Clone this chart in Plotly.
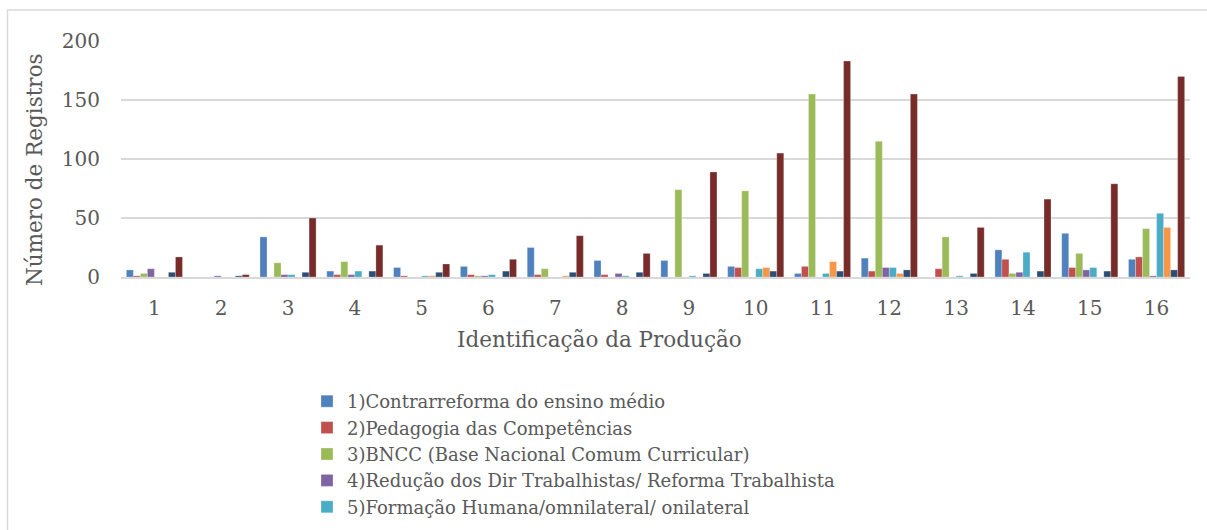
import plotly.graph_objects as go

categories = [str(i) for i in range(1, 17)]

s1_contrarreforma = [6, 0, 34, 5, 8, 9, 25, 14, 14, 9, 3, 16, 0, 23, 37, 15]
s2_pedagogia = [1, 0, 0, 2, 1, 2, 2, 2, 0, 8, 9, 5, 7, 15, 8, 17]
s3_bncc = [3, 0, 12, 13, 0, 1, 7, 0, 74, 73, 155, 115, 34, 3, 20, 41]
s4_reducao = [7, 1, 2, 2, 0, 1, 0, 3, 0, 0, 0, 8, 0, 4, 6, 1]
s5_formacao = [0, 0, 2, 5, 1, 2, 0, 1, 1, 7, 3, 8, 1, 21, 8, 54]
s6_orange = [0, 0, 0, 0, 1, 0, 1, 0, 0, 8, 13, 3, 0, 0, 0, 42]
s7_navy = [4, 1, 4, 5, 4, 5, 4, 4, 3, 5, 5, 6, 3, 5, 5, 6]
s8_darkred = [17, 2, 50, 27, 11, 15, 35, 20, 89, 105, 183, 155, 42, 66, 79, 170]

names = [
    "1)Contrarreforma do ensino médio",
    "2)Pedagogia das Competências",
    "3)BNCC (Base Nacional Comum Curricular)",
    "4)Redução dos Dir Trabalhistas/ Reforma Trabalhista",
    "5)Formação Humana/omnilateral/ onilateral",
    "6)",
    "7)",
    "8)",
]
series = [s1_contrarreforma, s2_pedagogia, s3_bncc, s4_reducao, s5_formacao,
          s6_orange, s7_navy, s8_darkred]
colors = ["#4F81BD", "#C0504D", "#9BBB59", "#8064A2", "#4BACC6",
          "#F79646", "#2C4D75", "#772C2A"]

x_title = "Identificação da Produção"
y_title = "Número de Registros"

FONT = "DejaVu Serif"
GRAY = "#595959"
L, T, W, H = 121, 41, 1069, 236

fig = go.Figure()
for i, (n, s, c) in enumerate(zip(names, series, colors)):
    fig.add_trace(go.Bar(
        x=categories, y=s, name=n,
        marker=dict(color=c, line=dict(color="rgba(255,255,255,0.45)", width=0.6)),
        showlegend=i < 5,
    ))

fig.update_layout(
    width=1207, height=530,
    margin=dict(l=L, r=1207 - L - W, t=T, b=530 - T - H, autoexpand=False),
    paper_bgcolor="white", plot_bgcolor="white",
    barmode="group", bargap=0.16, bargroupgap=0,
    font=dict(family=FONT, color=GRAY, size=20),
    xaxis=dict(
        tickfont=dict(size=20, color=GRAY),
        showline=True, linecolor="#D9D9D9", linewidth=1.5,
        ticks="", showgrid=False, ticklabelstandoff=12,
    ),
    yaxis=dict(
        tickfont=dict(size=20, color=GRAY),
        range=[0, 200], tickvals=[0, 50, 100, 150, 200],
        showgrid=True, gridcolor="#D9D9D9", gridwidth=1.5,
        zeroline=False, ticks="", showline=False, ticklabelstandoff=20,
    ),
    legend=dict(
        x=(307 - L) / W, y=-(383 - 277) / H, xanchor="left", yanchor="top",
        font=dict(size=18, color=GRAY), tracegroupgap=0,
        itemwidth=30, bgcolor="rgba(0,0,0,0)",
    ),
    annotations=[
        dict(text=x_title, xref="paper", yref="paper",
             x=(599 - L) / W, y=(T + H - 339) / H, xanchor="center", yanchor="middle",
             showarrow=False, font=dict(size=21.5, color=GRAY)),
        dict(text=y_title, xref="paper", yref="paper", textangle=-90,
             x=(34 - L) / W, y=(T + H - 170) / H, xanchor="center", yanchor="middle",
             showarrow=False, font=dict(size=21.5, color=GRAY)),
    ],
    shapes=[dict(type="rect", xref="paper", yref="paper",
                 x0=(7.5 - L) / W, x1=1.05,
                 y0=-1.2, y1=1 + (T - 10) / H,
                 line=dict(color="#D9D9D9", width=1.5), layer="below")],
)

fig.write_html("out.html", config={"displayModeBar": False},
               post_script="document.body.style.margin='0';document.body.style.overflow='hidden';")
